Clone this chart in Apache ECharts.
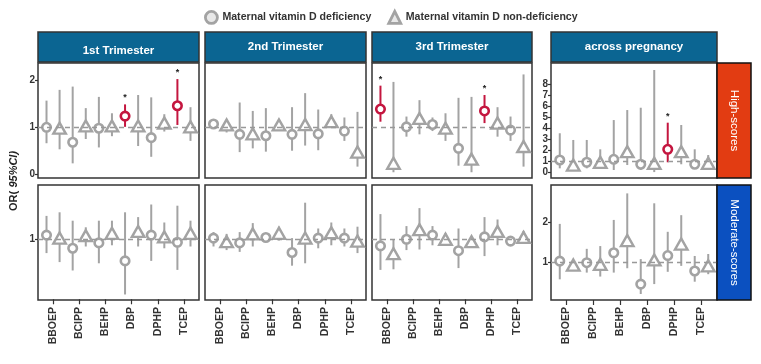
<!DOCTYPE html>
<html><head><meta charset="utf-8">
<script src="https://cdn.jsdelivr.net/npm/echarts@6/dist/echarts.min.js"></script>
<style>html,body{margin:0;padding:0;background:#fff}#c{width:761px;height:364px}</style>
</head><body><div id="c"></div>
<script>
const categories = ['BBOEP','BCIPP','BEHP','DBP','DPHP','TCEP'];
const panelTitles = ['1st Trimester','2nd Trimester','3rd Trimester','across pregnancy'];
const rowTitles = ['High-scores','Moderate-scores'];
const seriesNames = ['Maternal vitamin D deficiency','Maternal vitamin D non-deficiency'];

// [OR, lower 95%CI, upper 95%CI] per category
const high_t1_def = [[1.00,0.66,1.57],[0.68,0.23,1.87],[0.98,0.57,1.65],[1.24,1.01,1.49],[0.78,0.37,1.64],[1.46,1.05,2.03]];
const high_t1_non = [[0.98,0.53,1.80],[1.03,0.75,1.41],[1.03,0.81,1.30],[1.03,0.60,1.69],[1.09,0.91,1.28],[1.01,0.71,1.43]];
const high_t2_def = [[1.07,1.00,1.12],[0.85,0.47,1.53],[0.82,0.48,1.41],[0.85,0.50,1.43],[0.86,0.51,1.38],[0.92,0.71,1.21]];
const high_t2_non = [[1.05,0.89,1.16],[0.86,0.55,1.35],[1.05,0.96,1.16],[1.06,0.61,1.73],[1.12,1.01,1.28],[0.47,0.16,1.33]];
const high_t3_def = [[1.39,1.12,1.89],[1.01,0.80,1.23],[1.06,0.92,1.21],[0.55,0.18,1.63],[1.35,1.09,1.69],[0.94,0.71,1.23]];
const high_t3_non = [[0.23,0.04,1.97],[1.19,0.85,1.58],[0.98,0.71,1.30],[0.32,0.04,1.65],[1.09,0.80,1.43],[0.59,0.16,2.13]];
const high_all_def = [[1.12,0.36,3.55],[0.91,0.36,2.94],[1.18,0.21,4.75],[0.73,0.21,5.87],[2.09,0.91,4.51],[0.73,0.36,2.09]];
const high_all_non = [[0.66,0.21,2.94],[0.91,0.42,2.09],[1.87,0.66,5.66],[0.82,0.02,9.30],[1.87,0.73,4.30],[0.82,0.42,1.57]];
const mod_t1_def = [[1.07,0.77,1.39],[0.85,0.48,1.31],[0.94,0.60,1.31],[0.64,0.08,1.45],[1.07,0.64,1.58],[0.95,0.49,1.56]];
const mod_t1_non = [[1.02,0.62,1.45],[1.06,0.88,1.20],[1.10,0.90,1.31],[1.13,0.88,1.37],[1.04,0.85,1.28],[1.10,0.88,1.31]];
const mod_t2_def = [[1.02,0.88,1.12],[0.94,0.79,1.12],[1.03,0.96,1.10],[0.78,0.56,1.02],[1.02,0.85,1.18],[1.02,0.88,1.18]];
const mod_t2_non = [[0.96,0.82,1.09],[1.09,0.88,1.27],[1.10,0.98,1.21],[1.02,0.60,1.61],[1.11,0.90,1.28],[0.97,0.77,1.21]];
const mod_t3_def = [[0.89,0.49,1.42],[1.00,0.82,1.22],[1.07,0.90,1.22],[0.81,0.52,1.18],[1.04,0.72,1.37],[0.97,0.93,1.04]];
const mod_t3_non = [[0.76,0.50,0.99],[1.16,0.83,1.52],[1.00,0.92,1.10],[0.96,0.88,1.04],[1.13,0.90,1.33],[1.03,0.97,1.14]];
const mod_all_def = [[1.03,0.57,1.97],[0.99,0.74,1.34],[1.24,0.74,2.07],[0.45,0.20,1.08],[1.17,0.76,1.77],[0.78,0.51,1.16]];
const mod_all_non = [[0.93,0.82,1.06],[0.95,0.64,1.41],[1.55,0.85,2.74],[1.06,0.45,2.49],[1.46,0.91,2.19],[0.91,0.70,1.21]];
// significance flags (1 = p<0.05) for deficiency group
const high_t1_sig = [0,0,0,1,0,1];
const high_t3_sig = [1,0,0,0,1,0];
const high_all_sig = [0,0,0,0,1,0];
const none_sig = [0,0,0,0,0,0];

// y tick labels
const yTicksRow1 = [0,1,2];
const yTicksRow1All = [0,1,2,3,4,5,6,7,8];
const yTicksRow2 = [1];
const yTicksRow2All = [1,2];

const panels = [
  {row:0,col:0,def:high_t1_def,non:high_t1_non,sig:high_t1_sig},
  {row:0,col:1,def:high_t2_def,non:high_t2_non,sig:none_sig},
  {row:0,col:2,def:high_t3_def,non:high_t3_non,sig:high_t3_sig},
  {row:0,col:3,def:high_all_def,non:high_all_non,sig:high_all_sig},
  {row:1,col:0,def:mod_t1_def,non:mod_t1_non,sig:none_sig},
  {row:1,col:1,def:mod_t2_def,non:mod_t2_non,sig:none_sig},
  {row:1,col:2,def:mod_t3_def,non:mod_t3_non,sig:none_sig},
  {row:1,col:3,def:mod_all_def,non:mod_all_non,sig:none_sig}
];

const GRAY = '#a3a3a3', RED = '#c4163f', DARK = '#333';
const FONT = 'Liberation Sans, Arial, sans-serif';
const colLeft = [38, 205, 372, 551];
const colWidth = [161, 161, 160, 166];
const rowTop = [63, 185];
const rowH = 115;
const yRange = [[[-0.083, 2.374],[-0.083, 2.374],[-0.083, 2.374],[-0.518, 9.936]],
                [[-0.012, 1.905],[-0.012, 1.905],[-0.012, 1.905],[0.048, 2.952]]];
const yTicks = [[yTicksRow1,yTicksRow1,yTicksRow1,yTicksRow1All],[yTicksRow2,yTicksRow2,yTicksRow2,yTicksRow2All]];
const catCenters = categories.map((c,i)=>2*i+1.5);

const grid=[], xAxis=[], yAxis=[], series=[];
panels.forEach((p,k)=>{
  grid.push({left:colLeft[p.col], top:rowTop[p.row], width:colWidth[p.col], height:rowH,
    show:true, borderColor:DARK, borderWidth:1.5, backgroundColor:'#fff'});
  const bottom = p.row===1;
  xAxis.push({type:'value', gridIndex:k, min:0.35, max:12.65, splitLine:{show:false},
    axisLine:{show:false},
    axisTick:{show:bottom, customValues:catCenters, length:5, lineStyle:{color:DARK,width:1.2}},
    axisLabel:{show:bottom, customValues:catCenters, rotate:90, margin:7,
      formatter:v=>categories[Math.round((v-1.5)/2)], fontSize:10.5, fontWeight:'bold', color:DARK, fontFamily:FONT}});
  const showY = p.col===0 || p.col===3;
  const yr = yRange[p.row][p.col];
  yAxis.push({type:'value', gridIndex:k, min:yr[0], max:yr[1], splitLine:{show:false},
    axisLine:{show:false},
    axisTick:{show:showY, customValues:yTicks[p.row][p.col], length:3, lineStyle:{color:DARK,width:1.2}},
    axisLabel:{show:showY, customValues:yTicks[p.row][p.col], margin:3, fontSize:10, fontWeight:'bold', color:DARK, fontFamily:FONT}});
  const bars=[], circ=[], tri=[];
  categories.forEach((c,i)=>{
    const xd = 2*i+1, xn = 2*i+2;
    const d = p.def[i], n = p.non[i], s = p.sig[i];
    bars.push([xd, d[1], d[2], s]);
    bars.push([xn, n[1], n[2], 0]);
    circ.push(s ? {value:[xd,d[0]], itemStyle:{borderColor:RED}} : {value:[xd,d[0]]});
    tri.push({value:[xn,n[0]]});
  });
  series.push({type:'custom', xAxisIndex:k, yAxisIndex:k, z:2, silent:true, clip:true,
    data:bars,
    renderItem:(params, api)=>{
      const x=api.value(0), lo=api.value(1), hi=api.value(2), s=api.value(3);
      const a=api.coord([x,lo]), b=api.coord([x,hi]);
      const children=[{type:'line', shape:{x1:a[0],y1:a[1],x2:b[0],y2:b[1]}, style:{stroke:s?RED:GRAY, lineWidth:2}}];
      if(s) children.push({type:'text', style:{text:'*', x:b[0], y:b[1]-2, align:'center', verticalAlign:'bottom', fill:'#222', font:'bold 9px '+FONT}});
      return {type:'group', children};
    },
    markLine:{silent:true, symbol:'none', label:{show:false}, animation:false,
      lineStyle:{type:[5,4], color:'#999', width:1.3}, data:[{yAxis:1}]}
  });
  series.push({type:'scatter', name:seriesNames[0], xAxisIndex:k, yAxisIndex:k, z:3, silent:true,
    symbol:'circle', symbolSize:8.5, itemStyle:{color:'#fff', borderColor:GRAY, borderWidth:2.6, opacity:1}, data:circ});
  series.push({type:'scatter', name:seriesNames[1], xAxisIndex:k, yAxisIndex:k, z:3, silent:true,
    symbol:'triangle', symbolSize:[12.5,11], itemStyle:{color:'#fff', borderColor:GRAY, borderWidth:2.4, opacity:1}, data:tri});
});

const graphic=[];
const headerY=[51,47,47,47];
panelTitles.forEach((t,j)=>{
  graphic.push({type:'rect', shape:{x:colLeft[j], y:32, width:colWidth[j], height:30},
    style:{fill:'#0b6592', stroke:DARK, lineWidth:1.5}, z:10});
  graphic.push({type:'text', x:colLeft[j]+colWidth[j]/2, y:headerY[j],
    style:{text:t, fill:'#fff', font:'bold 11.5px '+FONT, align:'center', verticalAlign:'middle'}, z:11});
});
const stripColors=['#e23c12','#0b50c0'];
rowTitles.forEach((t,r)=>{
  graphic.push({type:'rect', shape:{x:717, y:rowTop[r], width:34, height:rowH},
    style:{fill:stripColors[r], stroke:'#111', lineWidth:1.5}, z:10});
  graphic.push({type:'text', x:734, y:rowTop[r]+rowH/2, rotation:-Math.PI/2,
    style:{text:t, fill:'#fff', font:'11.5px '+FONT, align:'center', verticalAlign:'middle'}, z:11});
});
graphic.push({type:'text', x:14, y:181, rotation:Math.PI/2,
  style:{text:'{a|OR(} {b|95%CI)}', align:'center', verticalAlign:'middle',
    rich:{a:{font:'bold 11px '+FONT, fill:'#222'}, b:{font:'italic bold 11px '+FONT, fill:'#222'}}}, z:11});

const chart = echarts.init(document.getElementById('c'), null, {renderer:'canvas'});
chart.setOption({
  animation:false,
  backgroundColor:'#fff',
  legend:{data:seriesNames, top:5, left:199, itemWidth:12, itemHeight:12, itemGap:16,
    itemStyle:{borderWidth:2.8, color:'#e8e8e8', borderColor:GRAY},
    textStyle:{fontSize:10.6, fontWeight:'bold', color:DARK, fontFamily:FONT}},
  grid, xAxis, yAxis, series, graphic
});
</script></body></html>
